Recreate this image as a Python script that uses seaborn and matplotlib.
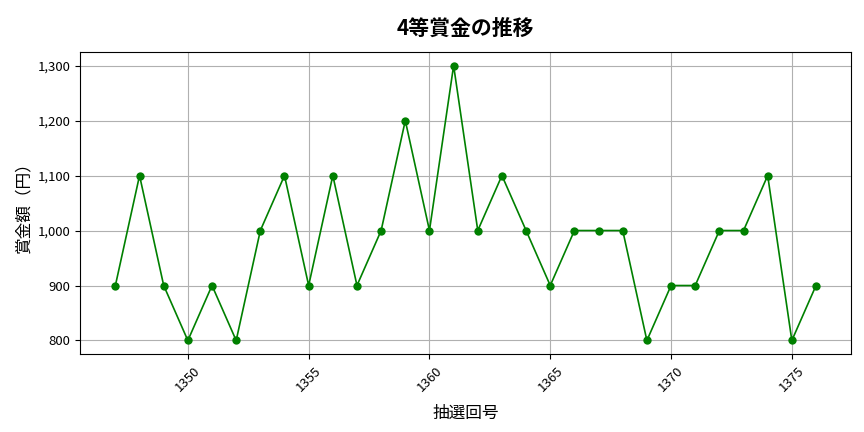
import matplotlib
matplotlib.use("Agg")
import matplotlib.pyplot as plt
import matplotlib.ticker as mticker
import seaborn as sns
import pandas as pd

draws = list(range(1347, 1377))
prizes = [900, 1100, 900, 800, 900, 800, 1000, 1100, 900, 1100,
          900, 1000, 1200, 1000, 1300, 1000, 1100, 1000, 900, 1000,
          1000, 1000, 800, 900, 900, 1000, 1000, 1100, 800, 900]

df = pd.DataFrame({"draw": draws, "prize": prizes})

sns.set_style("ticks")
plt.rcParams["font.family"] = ["Noto Sans CJK JP", "DejaVu Sans"]
for key in ["text.color", "axes.labelcolor", "xtick.color", "ytick.color"]:
    plt.rcParams[key] = "black"

fig, ax = plt.subplots(figsize=(8.64, 4.32), dpi=100)
sns.lineplot(data=df, x="draw", y="prize", marker="o", color="green",
             markersize=6, markeredgewidth=0, linewidth=1.2, ax=ax)

ax.set_title("4等賞金の推移", fontsize=15, fontweight="bold", pad=12)
ax.set_xlabel("抽選回号", fontsize=12, labelpad=8)
ax.set_ylabel("賞金額（円）", fontsize=12)
ax.yaxis.set_major_formatter(mticker.FuncFormatter(lambda v, p: f"{int(v):,}"))
ax.xaxis.set_major_locator(mticker.MultipleLocator(5))
plt.setp(ax.get_xticklabels(), rotation=45)
ax.tick_params(labelsize=9.5)
for s in ax.spines.values():
    s.set_color("black")
ax.grid(True, color="#b0b0b0", linewidth=0.8)

fig.subplots_adjust(left=0.093, right=0.985, top=0.88, bottom=0.18)
fig.savefig("out.png")
